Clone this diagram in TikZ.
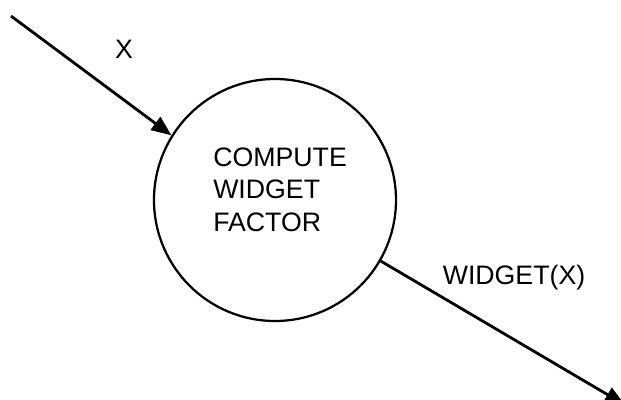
\documentclass[tikz,border=0pt]{standalone}
\usepackage{fontspec}
\setmainfont{Liberation Sans}
\usepackage{tikz}
\usetikzlibrary{arrows.meta, positioning}
\tikzset{
    process/.style={circle, draw=black, line width=1.6pt, minimum size=6.05cm,
        inner sep=0pt},
    proctext/.style={anchor=north west, inner sep=0pt, align=left,
        font=\fontsize{19}{22.8}\selectfont},
    flowlabel/.style={anchor=base, inner sep=0pt,
        font=\fontsize{19}{22.8}\selectfont},
    arrow/.style={line width=2pt, -{Triangle[length=0.5cm, width=0.4cm]}}
}

\begin{document}
\begin{tikzpicture}
\useasboundingbox (0,0) rectangle (15.525,-9.975);
\node[process] (widget) at (6.875,-5.0) {};
\node[proctext] (widgettext) at (5.325,-3.7) {COMPUTE\\WIDGET\\FACTOR};
\coordinate (xin) at (0.275,-0.4);
\coordinate (xout) at (15.62,-10.12);
\node[flowlabel] (xlabel) at (3.1,-1.45) {X};
\node[flowlabel] (wlabel) at (12.85,-7.12) {WIDGET(X)};
\draw[arrow] (xin) -- (widget.148);
\draw[arrow] (widget.-30.6) -- (xout);
\end{tikzpicture}
\end{document}
